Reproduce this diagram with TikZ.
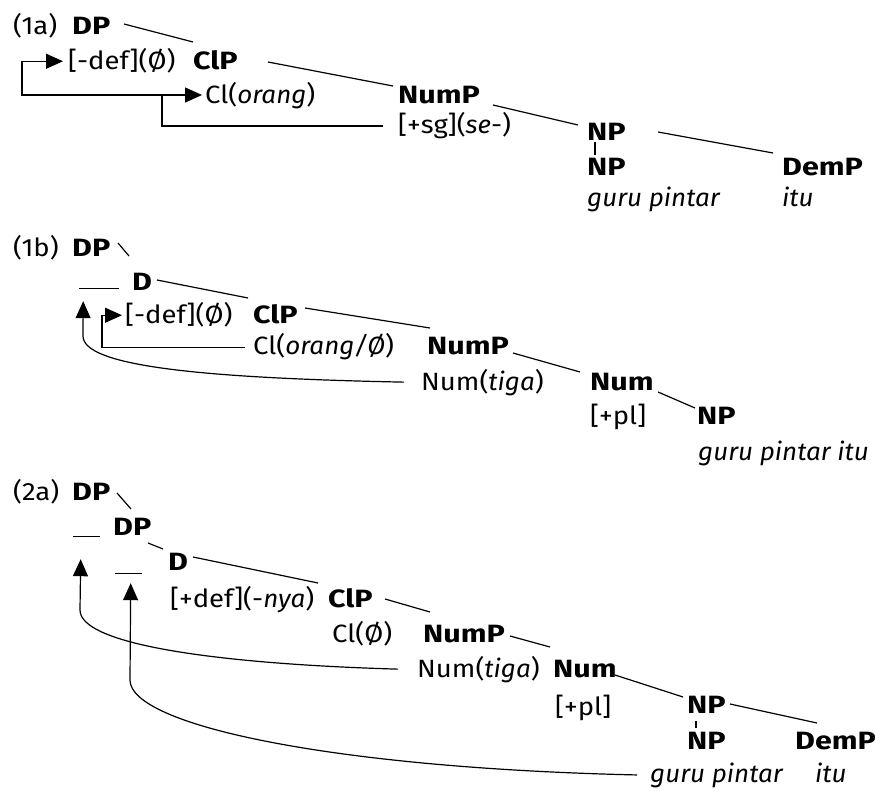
\documentclass[tikz,border=0pt]{standalone}
\usepackage{fontspec}
\setmainfont{Fira Sans}[
  UprightFeatures={FakeStretch=1.1},
  ItalicFeatures={FakeStretch=1.04},
  BoldFeatures={FakeStretch=1.22}]
\usetikzlibrary{arrows.meta,calc}
\begin{document}
\begin{tikzpicture}[x=1pt,y=-1pt,
  t/.style={anchor=base west,inner sep=0pt,font=\fontsize{25}{29}\selectfont},
  b/.style={anchor=base west,inner sep=0pt,font=\fontsize{25}{29}\selectfont\bfseries},
  br/.style={line width=1.2pt},
  mv/.style={line width=1.2pt,-{Triangle[length=17pt,width=15pt]}}]
\useasboundingbox (0,0) rectangle (875,791);
% ---------- (1a)
\node[t] (ex1a) at (13,35) {(1a)};
\node[b] (dp1) at (72,35) {DP};
\node[t] (def1) at (68,70) {[-def](Ø)};
\node[b] (clp1) at (193,70) {ClP};
\node[t] (cl1) at (205,104) {Cl(\textit{orang})};
\node[b] (nump1) at (398,104) {NumP};
\node[t] (sg1) at (398,134) {[+sg](\textit{se}-)};
\node[b] (np1) at (587,141) {NP};
\node[b] (npb1) at (587,176) {NP};
\node[b] (demp1) at (782,176) {DemP};
\node[t] (guru1) at (587,207) {\textit{guru pintar}};
\node[t] (itu1) at (782,207) {\textit{itu}};
\draw[br] (124,24) -- (193,42);
\draw[br] (268,62) -- (393,86);
\draw[br] (493,105) -- (578,125);
\draw[br] (658,132) -- (773,153);
\draw[br] (595,142) -- (595,155);
\coordinate (j1) at (162,95);
\draw[br] ($(sg1.west)+(-15,0)$) -| (j1);
\draw[mv] (j1) -- ($(j1 -| cl1.west)+(-3,0)$);
\draw[mv] (j1) -- (22,95) |- ($(def1.west)+(-5,0)$);
% ---------- (1b)
\node[t] (ex1b) at (13,257) {(1b)};
\node[b] (dp2) at (72,257) {DP};
\node[t] (gap2) at (79,289) {\rule{40pt}{1pt}};
\node[b] (d2) at (132,291) {D};
\node[t] (def2) at (125,324) {[-def](Ø)};
\node[b] (clp2) at (253,324) {ClP};
\node[t] (cl2) at (253,355) {Cl(\textit{orang/Ø})};
\node[b] (nump2) at (427,355) {NumP};
\node[t] (num2) at (421,390) {Num(\textit{tiga})};
\node[b] (numh2) at (590,390) {Num};
\node[t] (pl2) at (590,424) {[+pl]};
\node[b] (np2) at (697,424) {NP};
\node[t] (guru2) at (698,460) {\textit{guru pintar itu}};
\draw[br] (118,243) -- (129,256);
\draw[br] (157,280) -- (248,298);
\draw[br] (305,308) -- (430,328);
\draw[br] (513,353) -- (580,372);
\draw[br] (658,392) -- (695,408);
\draw[mv] ($(cl2.west)+(-8,0)$) -- (102,0 |- cl2.west) |- ($(def2.west)+(-3,0)$);
\draw[mv] ($(num2.west)+(-17,0)$) .. controls (200,378) and (83,366) .. (83,336) -- ($(gap2.south)+(-20+4,12)$);
% ---------- (2a)
\node[t] (ex2a) at (13,500) {(2a)};
\node[b] (dp3) at (72,500) {DP};
\node[t] (gap3a) at (73,537) {\rule{27pt}{1pt}};
\node[b] (dp3b) at (113,535) {DP};
\node[t] (gap3b) at (115,574) {\rule{27pt}{1pt}};
\node[b] (d3) at (168,570) {D};
\node[t] (def3) at (170,607) {[+def](-\textit{nya})};
\node[b] (clp3) at (328,607) {ClP};
\node[t] (cl3) at (332,642) {Cl(Ø)};
\node[b] (nump3) at (423,642) {NumP};
\node[t] (num3) at (417,677) {Num(\textit{tiga})};
\node[b] (numh3) at (553,677) {Num};
\node[t] (pl3) at (555,715) {[+pl]};
\node[b] (np3) at (687,713) {NP};
\node[b] (npb3) at (687,749) {NP};
\node[b] (demp3) at (795,749) {DemP};
\node[t] (guru3) at (650,782) {\textit{guru pintar}};
\node[t] (itu3) at (815,782) {\textit{itu}};
\draw[br] (117,493) -- (131,509);
\draw[br] (148,543) -- (163,549);
\draw[br] (193,557) -- (318,583);
\draw[br] (385,599) -- (430,612);
\draw[br] (510,636) -- (550,647);
\draw[br] (615,675) -- (683,697);
\draw[br] (730,704) -- (817,723);
\draw[br] (696,721) -- (696,728);
\draw[mv] ($(num3.west)+(-19,0)$) .. controls (220,664) and (80,645) .. (80,610) -- ($(gap3a.south)+(-6,22)$);
\draw[mv] ($(guru3.west)+(-13,0)$) .. controls (330,768) and (130,725) .. (130,680) -- ($(gap3b.south)+(2,9)$);
\end{tikzpicture}
\end{document}
